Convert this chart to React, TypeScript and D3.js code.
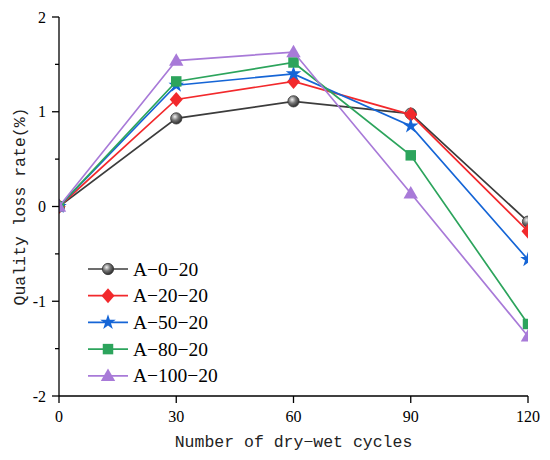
import { scaleLinear, line, symbol, symbolStar, symbolSquare, symbolTriangle, symbolCircle } from 'd3'

const cycles = [0, 30, 60, 90, 120]
const seriesNames = ['A−0−20', 'A−20−20', 'A−50−20', 'A−80−20', 'A−100−20']
const a0 = [0, 0.93, 1.11, 0.98, -0.16]
const a20 = [0, 1.13, 1.32, 0.97, -0.26]
const a50 = [0, 1.28, 1.4, 0.85, -0.56]
const a80 = [0, 1.32, 1.52, 0.54, -1.24]
const a100 = [0, 1.54, 1.63, 0.14, -1.37]
const xTicks = [0, 30, 60, 90, 120]
const yTicks = [-2, -1, 0, 1, 2]
const yMinor = [-1.5, -0.5, 0.5, 1.5]

const colors = ['#3c3c3c', '#f2292c', '#1565d6', '#2ca45c', '#a87ad8']
const shapes = ['sphere', 'diamond', 'star', 'square', 'triangle']
const values = [a0, a20, a50, a80, a100]

const W = 550
const H = 460
const M = { left: 59, right: 528, top: 17, bottom: 396 }

const x = scaleLinear().domain([0, 120]).range([M.left, M.right])
const y = scaleLinear().domain([-2, 2]).range([M.bottom, M.top])

function Marker({ shape, color, cx, cy }: { shape: string; color: string; cx: number; cy: number }) {
  if (shape === 'sphere') {
    return <path d={symbol(symbolCircle, 100)() as string} transform={`translate(${cx},${cy})`} fill="url(#sphere)" stroke="#333" strokeWidth={0.8} />
  }
  if (shape === 'diamond') {
    return <path d="M0,-7.5L6.5,0L0,7.5L-6.5,0Z" transform={`translate(${cx},${cy})`} fill={color} />
  }
  if (shape === 'star') {
    return <path d={symbol(symbolStar, 75)() as string} transform={`translate(${cx},${cy})`} fill={color} />
  }
  if (shape === 'square') {
    return <path d={symbol(symbolSquare, 110)() as string} transform={`translate(${cx},${cy})`} fill={color} />
  }
  return <path d={symbol(symbolTriangle, 90)() as string} transform={`translate(${cx},${cy + 1})`} fill={color} />
}

export default function App() {
  const path = line<number>()
    .x((_, i) => x(cycles[i]))
    .y((d) => y(d))

  return (
    <svg width={W} height={H} style={{ position: 'absolute', left: 0, top: 0, background: '#fff' }}>
      <defs>
        <radialGradient id="sphere" cx="0.38" cy="0.35" r="0.7">
          <stop offset="0" stopColor="#f2f2f2" />
          <stop offset="0.45" stopColor="#777" />
          <stop offset="1" stopColor="#222" />
        </radialGradient>
        <clipPath id="plot">
          <rect x={M.left} y={M.top - 10} width={M.right - M.left} height={M.bottom - M.top + 10} />
        </clipPath>
      </defs>

      <g clipPath="url(#plot)">
        {values.map((vals, s) => (
          <g key={s}>
            <path d={path(vals) as string} fill="none" stroke={colors[s]} strokeWidth={1.7} />
            {vals.map((v, i) => (
              <Marker key={i} shape={shapes[s]} color={colors[s]} cx={x(cycles[i])} cy={y(v)} />
            ))}
          </g>
        ))}
      </g>

      {/* axes */}
      <g stroke="#000" strokeWidth={1.3} fill="none">
        <line x1={M.left} x2={M.left} y1={M.top} y2={M.bottom} />
        <line x1={M.left} x2={M.right} y1={M.bottom} y2={M.bottom} />
        {yTicks.map((t) => (
          <line key={t} x1={M.left - 7} x2={M.left} y1={y(t)} y2={y(t)} />
        ))}
        {yMinor.map((t) => (
          <line key={t} x1={M.left - 4} x2={M.left} y1={y(t)} y2={y(t)} />
        ))}
        {xTicks.map((t) => (
          <line key={t} x1={x(t)} x2={x(t)} y1={M.bottom} y2={M.bottom + 7} />
        ))}
      </g>
      <g fontFamily="'Liberation Serif', serif" fontSize={16} fill="#000">
        {yTicks.map((t) => (
          <text key={t} x={M.left - 13} y={y(t) + 5.5} textAnchor="end">
            {t}
          </text>
        ))}
        {xTicks.map((t) => (
          <text key={t} x={x(t)} y={M.bottom + 26} textAnchor="middle">
            {t}
          </text>
        ))}
      </g>

      <text x={(M.left + M.right) / 2} y={447} textAnchor="middle" fontFamily="'Liberation Mono', monospace" fontSize={16.5} fill="#222">
        Number of dry−wet cycles
      </text>
      <text transform={`translate(25,${(M.top + M.bottom) / 2}) rotate(-90)`} textAnchor="middle" fontFamily="'Liberation Mono', monospace" fontSize={16.5} fill="#222">
        Quality loss rate(%)
      </text>

      {/* legend */}
      {seriesNames.map((name, s) => {
        const ly = 269 + s * 26.7
        return (
          <g key={name}>
            <line x1={88} x2={128} y1={ly} y2={ly} stroke={colors[s]} strokeWidth={1.7} />
            <Marker shape={shapes[s]} color={colors[s]} cx={108} cy={ly} />
            <text x={133} y={ly + 6.5} fontFamily="'Liberation Serif', serif" fontSize={19.5} fill="#000">
              {name}
            </text>
          </g>
        )
      })}
    </svg>
  )
}
